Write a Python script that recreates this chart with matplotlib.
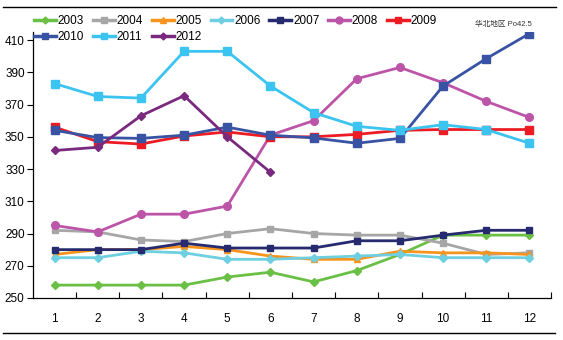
import numpy as np
import matplotlib
matplotlib.use("Agg")
import matplotlib.pyplot as plt
from matplotlib.lines import Line2D
from matplotlib import font_manager

names = {f.name for f in font_manager.fontManager.ttflist}
base = 'Liberation Sans Narrow' if 'Liberation Sans Narrow' in names else 'Liberation Sans'
plt.rcParams['font.family'] = [base, 'Noto Sans CJK SC', 'DejaVu Sans']

months = list(range(1, 13))

y2003 = [258, 258, 258, 258, 263, 266, 260, 267, 277, 289, 289, 289]
y2004 = [292, 291, 286, 285, 290, 293, 290, 289, 289, 284, 277, 278]
y2005 = [277, 280, 280, 282, 280, 276, 274, 274, 279, 278, 278, 277]
y2006 = [275, 275, 279, 278, 274, 274, 275, 276, 277, 275, 275, 275]
y2007 = [280, 280, 280, 284, 281, 281, 281, 285.5, 285.5, 289, 292, 292]
y2008 = [295, 291, 302, 302, 307, 351, 360, 386, 393, 383.5, 372, 362]
y2009 = [356, 347, 345.5, 350.5, 353, 350, 350, 351.5, 354, 354.5, 354.5, 354.5]
y2010 = [354, 349.5, 349, 351, 356, 351, 349.3, 346, 349, 381.5, 398.5, 414]
y2011 = [383, 375, 374, 403, 403, 381.5, 365, 356.5, 354, 357.5, 354.5, 346]
y2012 = [341.5, 343.5, 363, 375.5, 350, 328]

years = ["2003", "2004", "2005", "2006", "2007", "2008", "2009", "2010", "2011", "2012"]
values = [y2003, y2004, y2005, y2006, y2007, y2008, y2009, y2010, y2011, y2012]
colors = ["#6abf45", "#a6a6a6", "#f7941d", "#6dcfe0", "#262a6e",
          "#bc55a8", "#ed1c24", "#3953a4", "#3cc4f0", "#7a2a7e"]
markers = ["D", "s", "^", "D", "s", "o", "s", "s", "s", "D"]
msizes = [4, 5, 5, 4, 5, 5.5, 5.5, 5.5, 5.5, 4]

yticks = [250, 270, 290, 310, 330, 350, 370, 390, 410]

fig = plt.figure(figsize=(5.63, 3.40), dpi=100)
ax = fig.add_axes([33 / 563, 1 - 298 / 340, (551 - 33) / 563, (298 - 32) / 340])

for yr, v, c, m, ms in zip(years, values, colors, markers, msizes):
    ax.plot(months[:len(v)], v, color=c, marker=m, markersize=ms, lw=2.0,
            markeredgecolor=c, solid_joinstyle='round', label=yr)

ax.set_xlim(0.5, 12.5)
ax.set_ylim(250, 415)
ax.set_yticks(yticks)
ax.set_xticks(months)
ax.set_xticks(np.arange(1.5, 12.6, 1.0), minor=True)
ax.tick_params(axis='x', which='major', length=0, pad=11, labelsize=8.5)
ax.tick_params(axis='x', which='minor', direction='in', length=4, width=0.8)
ax.tick_params(axis='y', direction='out', length=4, width=0.8, pad=2, labelsize=8.5)
for s in ['top', 'right']:
    ax.spines[s].set_visible(False)
for s in ['left', 'bottom']:
    ax.spines[s].set_linewidth(0.9)

ax.text(0.963, 1.03, "华北地区 Po42.5", transform=ax.transAxes, ha='right',
        va='center', fontsize=5.5, color='#333333')

# legend is filled column by column, so reorder to read row by row
order = [0, 7, 1, 8, 2, 9, 3, 4, 5, 6]
handles = [Line2D([0], [0], color=colors[i], marker=markers[i], markersize=msizes[i] - 0.5, lw=2.5)
           for i in order]
labels = [years[i] for i in order]
fig.legend(handles, labels, loc='upper left', bbox_to_anchor=(34 / 563, 1 - 15 / 340),
           ncol=7, frameon=False, fontsize=8.5, handlelength=1.85, handletextpad=0.15,
           columnspacing=0.75, labelspacing=0.35, borderaxespad=0, borderpad=0)

fig.add_artist(Line2D([3 / 563, 556 / 563], [1 - 7 / 340, 1 - 7 / 340], color='black', lw=1.0))
fig.add_artist(Line2D([3 / 563, 555 / 563], [1 - 333 / 340, 1 - 333 / 340], color='black', lw=1.0))

fig.savefig("out.png", dpi=100)
